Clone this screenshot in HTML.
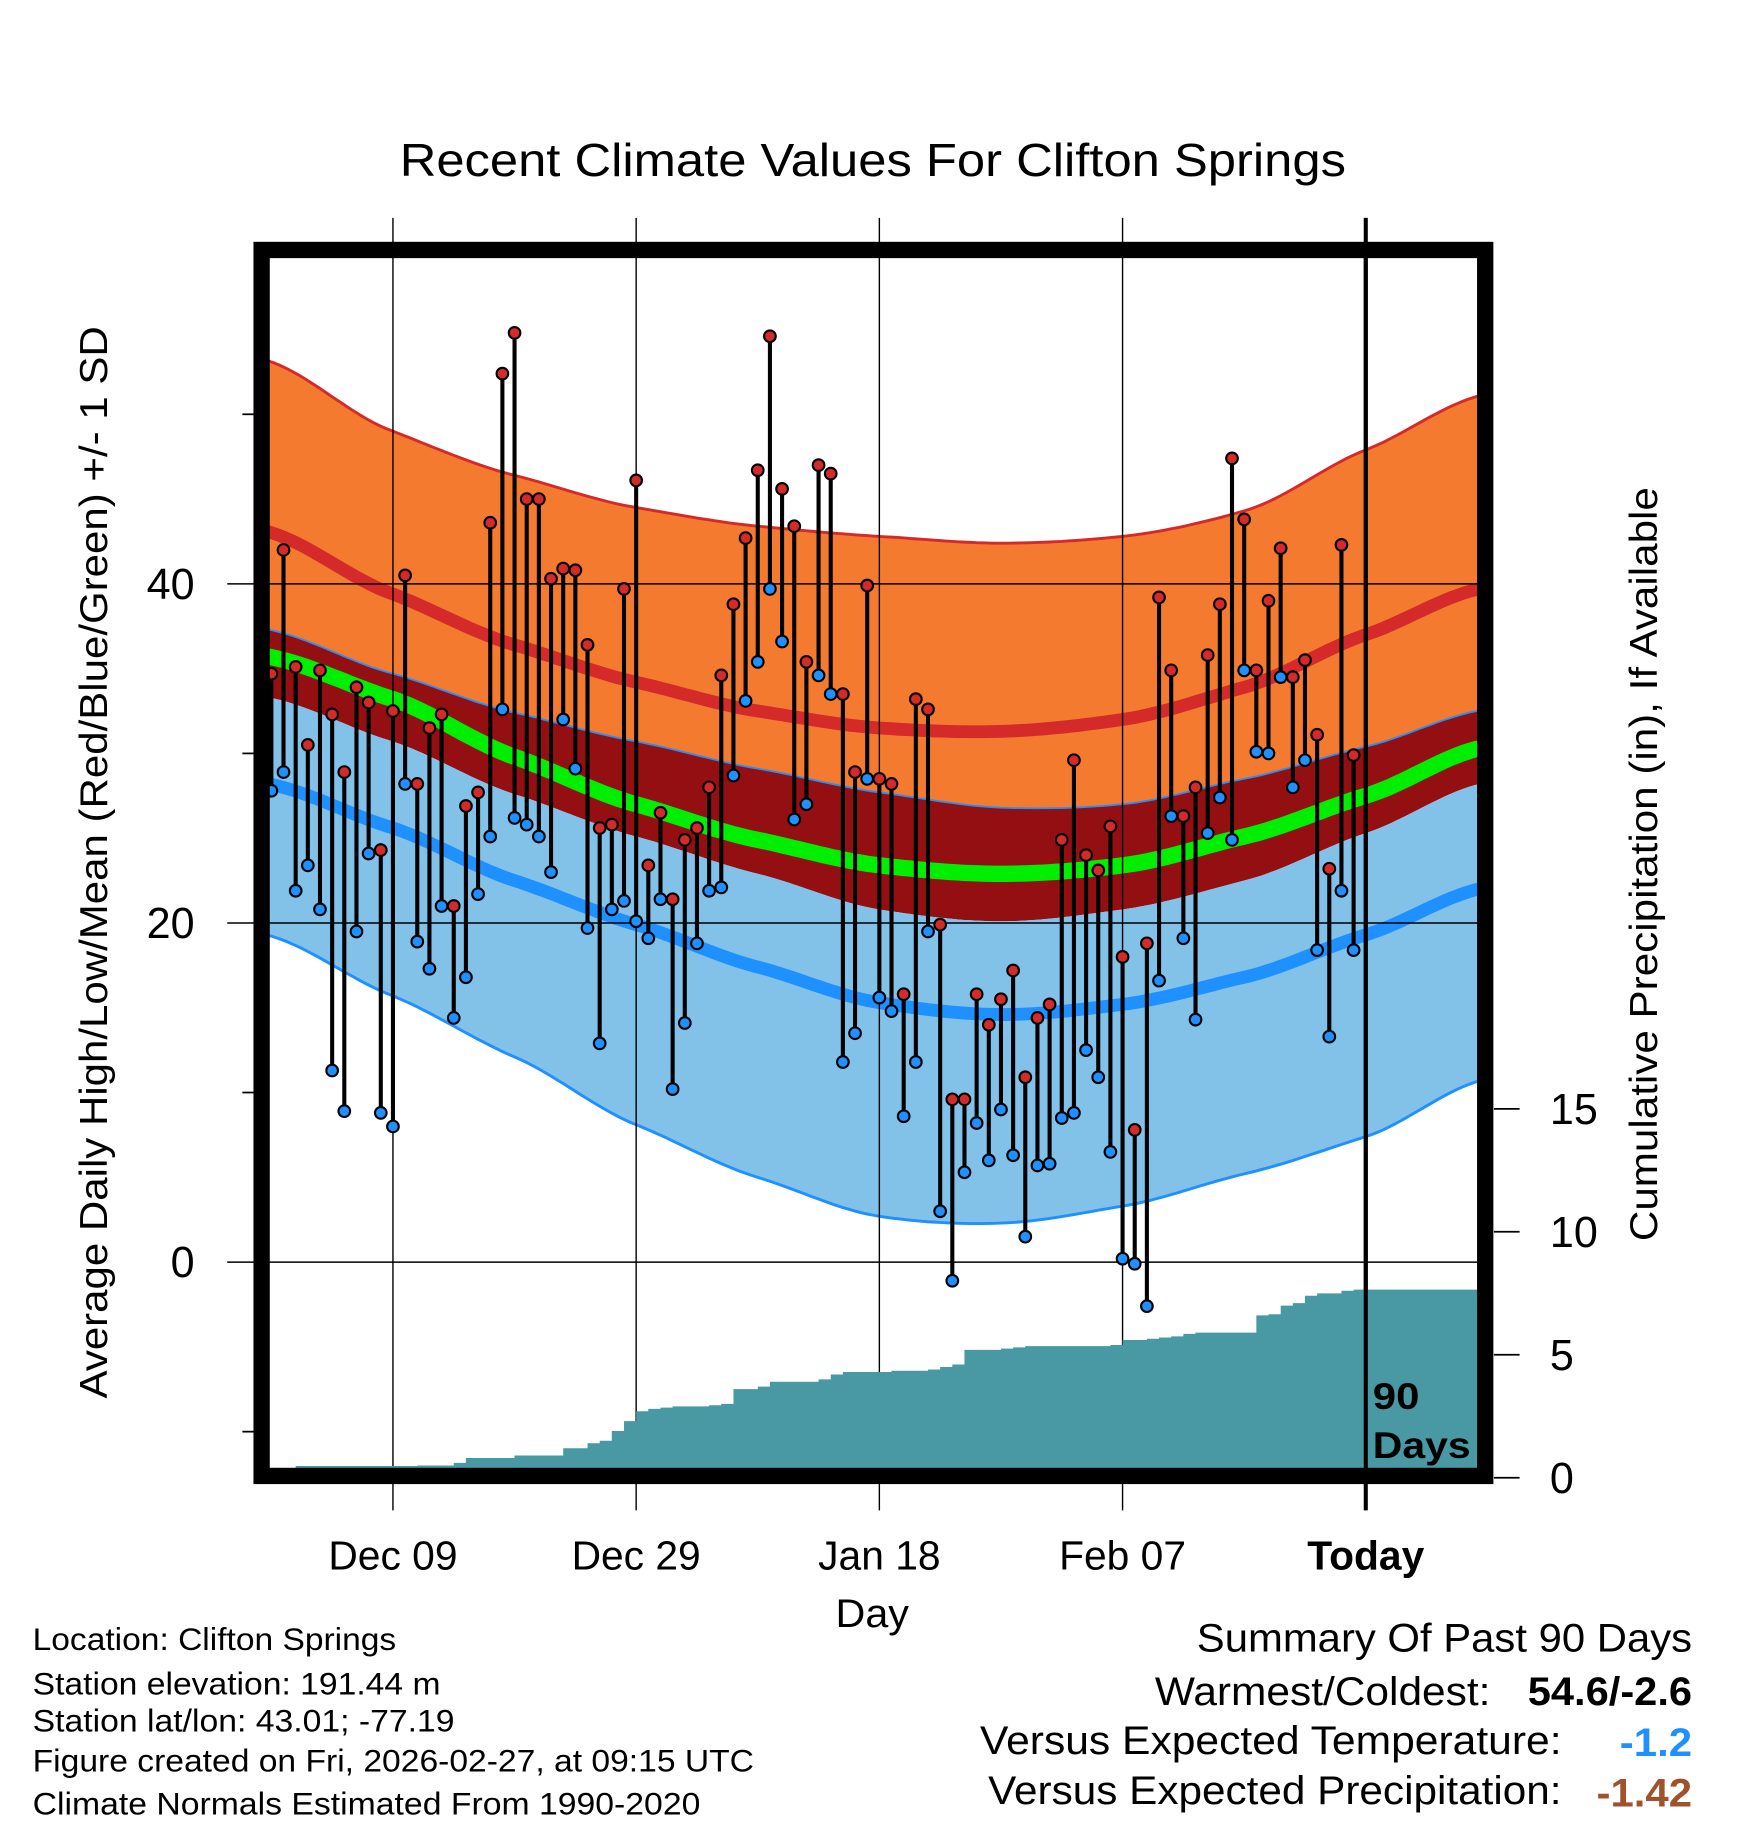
<!DOCTYPE html>
<html><head><meta charset="utf-8">
<style>
html,body{margin:0;padding:0;background:#fff;}
svg{display:block;}
text{font-family:"Liberation Sans",Arial,sans-serif;fill:#000;}
</style></head>
<body>
<svg id="chart" width="1748" height="1828" viewBox="0 0 1500 1568.6" preserveAspectRatio="none" xmlns="http://www.w3.org/2000/svg">
<defs><clipPath id="plotClip"><rect x="231" y="221" width="1037" height="1039"/></clipPath></defs>
<text x="343" y="151" font-size="40" textLength="812" lengthAdjust="spacingAndGlyphs">Recent Climate Values For Clifton Springs</text>
<g id="bands" clip-path="url(#plotClip)"></g>
<g id="grid"></g>
<g id="precip" clip-path="url(#plotClip)"></g>
<g id="marks"></g>
<rect x="224.5" y="214.5" width="1050" height="1052" fill="none" stroke="#000" stroke-width="14"/>
<g id="axes"></g>
<text transform="translate(92,1200) rotate(-90)" font-size="33" textLength="920" lengthAdjust="spacingAndGlyphs">Average Daily High/Low/Mean (Red/Blue/Green) +/- 1 SD</text>
<text transform="translate(1422,1065) rotate(-90)" font-size="33" textLength="647" lengthAdjust="spacingAndGlyphs">Cumulative Precipitation (in), If Available</text>
<text x="717" y="1396" font-size="34" textLength="63" lengthAdjust="spacingAndGlyphs">Day</text>
<text x="1178" y="1209" font-size="32" font-weight="bold" textLength="40" lengthAdjust="spacingAndGlyphs">90</text>
<text x="1178" y="1251" font-size="32" font-weight="bold" textLength="84" lengthAdjust="spacingAndGlyphs">Days</text>
<g font-size="27">
<text x="28" y="1416" textLength="312" lengthAdjust="spacingAndGlyphs">Location: Clifton Springs</text>
<text x="28" y="1454" textLength="350" lengthAdjust="spacingAndGlyphs">Station elevation: 191.44 m</text>
<text x="28" y="1486" textLength="362" lengthAdjust="spacingAndGlyphs">Station lat/lon: 43.01; -77.19</text>
<text x="28" y="1520" textLength="619" lengthAdjust="spacingAndGlyphs">Figure created on Fri, 2026-02-27, at 09:15 UTC</text>
<text x="28" y="1557" textLength="573" lengthAdjust="spacingAndGlyphs">Climate Normals Estimated From 1990-2020</text>
</g>
<g font-size="34">
<text x="1027" y="1417" textLength="425" lengthAdjust="spacingAndGlyphs">Summary Of Past 90 Days</text>
<text x="991" y="1463" textLength="288" lengthAdjust="spacingAndGlyphs">Warmest/Coldest:</text>
<text x="1311" y="1463" font-weight="bold" textLength="141" lengthAdjust="spacingAndGlyphs">54.6/-2.6</text>
<text x="841" y="1505" textLength="499" lengthAdjust="spacingAndGlyphs">Versus Expected Temperature:</text>
<text x="1390" y="1507" font-weight="bold" style="fill:#1e90ff" textLength="62" lengthAdjust="spacingAndGlyphs">-1.2</text>
<text x="848" y="1548" textLength="492" lengthAdjust="spacingAndGlyphs">Versus Expected Precipitation:</text>
<text x="1370" y="1550" font-weight="bold" style="fill:#a0522d" textLength="82" lengthAdjust="spacingAndGlyphs">-1.42</text>
</g>
</svg>
<script>
const highs=[34.7,42.0,35.1,30.5,34.9,32.3,28.9,33.9,33.0,24.3,32.5,40.5,28.2,31.5,32.3,21.0,26.9,27.7,43.6,52.4,54.8,45.0,45.0,40.3,40.9,40.8,36.4,25.6,25.8,39.7,46.1,23.4,26.5,21.4,24.9,25.6,28.0,34.6,38.8,42.7,46.7,54.6,45.6,43.4,35.4,47.0,46.5,33.5,28.9,39.9,28.5,28.2,15.8,33.2,32.6,19.9,9.6,9.6,15.8,14.0,15.5,17.2,10.9,14.4,15.2,24.9,29.6,24.0,23.1,25.7,18.0,7.8,18.8,39.2,34.9,26.3,28.0,35.8,38.8,47.4,43.8,34.9,39.0,42.1,34.5,35.5,31.1,23.2,42.3,29.9];
const lows=[27.8,28.9,21.9,23.4,20.8,11.3,8.9,19.5,24.1,8.8,8.0,28.2,18.9,17.3,21.0,14.4,16.8,21.7,25.1,32.6,26.2,25.8,25.1,23.0,32.0,29.1,19.7,12.9,20.8,21.3,20.1,19.1,21.4,10.2,14.1,18.8,21.9,22.1,28.7,33.1,35.4,39.7,36.6,26.1,27.0,34.6,33.5,11.8,13.5,28.5,15.6,14.8,8.6,11.8,19.5,3.0,-1.1,5.3,8.2,6.0,9.0,6.3,1.5,5.7,5.8,8.5,8.8,12.5,10.9,6.5,0.2,-0.1,-2.6,16.6,26.3,19.1,14.3,25.3,27.4,24.9,34.9,30.1,30.0,34.5,28.0,29.6,18.4,13.3,21.9,18.4];
const precip=[0.0,0.0,0.05,0.05,0.05,0.1,0.1,0.1,0.2,0.2,0.3,0.4,0.5,0.5,0.5,0.6,0.8,0.8,0.8,0.8,0.9,0.9,0.9,0.9,1.2,1.2,1.4,1.5,1.9,2.3,2.7,2.8,2.85,2.9,2.9,2.9,2.95,3.0,3.6,3.6,3.7,3.9,3.9,3.9,3.9,4.0,4.2,4.3,4.3,4.3,4.3,4.35,4.35,4.35,4.4,4.5,4.6,5.2,5.2,5.2,5.25,5.3,5.35,5.35,5.35,5.35,5.35,5.35,5.35,5.4,5.6,5.6,5.65,5.7,5.75,5.85,5.9,5.9,5.9,5.9,5.9,6.6,6.65,7.0,7.1,7.4,7.5,7.5,7.6,7.65];
const normDays=[-91,-80,-70,-60,-50,-40,-30,-20,-10,0,10];
const highPlusSD=[53.3,49.0,46.4,44.5,43.4,42.8,42.4,42.8,44.3,47.9,51.2];
const highMean=[43.2,39.4,36.4,34.2,32.5,31.5,31.3,32.0,33.9,37.0,39.8];
const highMinusSD=[37.4,34.7,32.4,30.7,29.1,27.7,26.8,27.0,28.5,30.4,32.6];
const avgMean=[35.8,33.2,29.8,27.0,24.9,23.4,22.9,23.4,25.1,27.5,30.4];
const lowPlusSD=[33.4,30.7,27.6,25.1,22.9,20.8,20.1,20.8,22.5,25.3,28.3];
const lowMean=[28.3,25.6,22.5,19.9,17.4,15.3,14.6,15.2,16.8,19.3,22.1];
const lowMinusSD=[19.4,15.7,12.1,8.1,5.0,2.7,2.3,3.3,5.2,7.4,10.8];
const xTickDays=[-80,-60,-40,-20,0];
const xTickLabels=["Dec 09","Dec 29","Jan 18","Feb 07","Today"];
const yTicks=[0,20,40];
const yMinor=[-10,10,30,50];
const pTicks=[0,5,10,15];

const NS="http://www.w3.org/2000/svg";
const xs=d=>1172+10.435*d;
const ys=t=>1083-14.55*t;
const yp=p=>1268-21.1*p;
function mk(tag,attrs,parent){const e=document.createElementNS(NS,tag);for(const k in attrs)e.setAttribute(k,attrs[k]);parent.appendChild(e);return e;}
// monotone-ish smooth curve via Catmull-Rom with tension
function smoothPts(vals){const pts=[];for(let i=0;i<normDays.length-1;i++){for(let s=0;s<20;s++){const t=s/20;const p0=vals[Math.max(i-1,0)],p1=vals[i],p2=vals[i+1],p3=vals[Math.min(i+2,vals.length-1)];const m1=(p2-p0)/2*0.8,m2=(p3-p1)/2*0.8;const h00=2*t*t*t-3*t*t+1,h10=t*t*t-2*t*t+t,h01=-2*t*t*t+3*t*t,h11=t*t*t-t*t;const v=h00*p1+h10*m1+h01*p2+h11*m2;const d=normDays[i]+(normDays[i+1]-normDays[i])*t;pts.push([xs(d),ys(v)]);}}pts.push([xs(normDays[normDays.length-1]),ys(vals[vals.length-1])]);return pts;}
const toPath=pts=>pts.map((p,i)=>(i?'L':'M')+p[0].toFixed(1)+','+p[1].toFixed(1)).join('');
function band(top,bot,fill,name){const a=smoothPts(top),b=smoothPts(bot).reverse();const e=mk('path',{d:toPath(a)+toPath(b).replace('M','L')+'Z',fill:fill},bands);

}
function line(vals,color,w,name){const e=mk('path',{d:toPath(smoothPts(vals)),fill:'none',stroke:color,'stroke-width':w},bands);

}
const bands=document.getElementById('bands');
band(highPlusSD,highMinusSD,'#f47a30','high-sd-band');
band(highMinusSD,lowPlusSD,'#930f12','overlap-band');
band(lowPlusSD,lowMinusSD,'#82c1e8','low-sd-band');
line(highPlusSD,'#d42a2a',2.5,'high-plus-sd-line');
line(highMean,'#d42a2a',11,'mean-high-line');
line(highMinusSD,'#1e90ff',1.5,'high-minus-sd-line');
line(avgMean,'#00ee00',14,'mean-avg-line');
line(lowMean,'#1e90ff',11,'mean-low-line');
line(lowMinusSD,'#1e90ff',2.5,'low-minus-sd-line');

const grid=document.getElementById('grid');
yTicks.forEach(t=>{const e=mk('line',{x1:195,x2:1268,y1:ys(t),y2:ys(t),stroke:'#000','stroke-width':1.3},grid);

});
xTickDays.forEach((d,i)=>{const e=mk('line',{x1:xs(d),x2:xs(d),y1:187,y2:1296,stroke:'#000','stroke-width':d===0?3.5:1.2},grid);

});

const pg=document.getElementById('precip');
let pd='M'+231+','+yp(0);
precip.forEach((p,i)=>{const x0=i===0?231:xs(-90+i),x1=xs(-89+i);const yy=p>0?Math.min(yp(p),1258):yp(0);pd+='L'+x0.toFixed(1)+','+yy.toFixed(1)+'L'+x1.toFixed(1)+','+yy.toFixed(1);});
pd+='L1268,'+yp(precip[precip.length-1]).toFixed(1)+'L1268,'+yp(0)+'Z';
const pa=mk('path',{d:pd,fill:'#4899a3'},pg);


const tl=mk('line',{x1:xs(0),x2:xs(0),y1:221,y2:1262,stroke:'#000','stroke-width':3.5},pg);



const marks=document.getElementById('marks');
highs.forEach((h,i)=>{const x=xs(-90+i);
const st=mk('line',{x1:x,x2:x,y1:ys(h),y2:ys(lows[i]),stroke:'#000','stroke-width':3.5},marks);

});
highs.forEach((h,i)=>{const x=xs(-90+i);
const c1=mk('circle',{cx:x,cy:ys(h),r:5,fill:'#d42a2a',stroke:'#000','stroke-width':1.8},marks);


const c2=mk('circle',{cx:x,cy:ys(lows[i]),r:5,fill:'#1e90ff',stroke:'#000','stroke-width':1.8},marks);

});

const axes=document.getElementById('axes');
yTicks.forEach(t=>{const e=mk('text',{x:167,y:ys(t)+13,'font-size':37,'text-anchor':'end'},axes);e.textContent=t;

});
yMinor.forEach(t=>{const e=mk('line',{x1:208,x2:218,y1:ys(t),y2:ys(t),stroke:'#000','stroke-width':1.5},axes);

});
pTicks.forEach(p=>{const e=mk('line',{x1:1282,x2:1304,y1:yp(p),y2:yp(p),stroke:'#000','stroke-width':1.5},axes);


const t=mk('text',{x:1330,y:yp(p)+13,'font-size':37},axes);t.textContent=p;

});
xTickDays.forEach((d,i)=>{const t=mk('text',{x:xs(d),y:1347,'font-size':35,'text-anchor':'middle'},axes);t.textContent=xTickLabels[i];
if(d===0)t.setAttribute('font-weight','bold');

});
</script>
</body></html>
